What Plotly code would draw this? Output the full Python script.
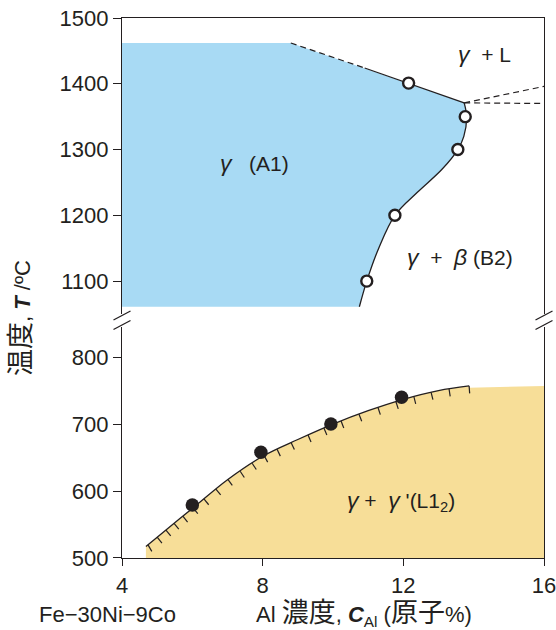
import numpy as np
import plotly.graph_objects as go

# ---------------- data ----------------
# upper panel (T >= 1050 °C)
liq_dash_x = [8.8, 10.9]
liq_dash_T = [1462, 1424]
liq_solid_x = [10.9, 13.73]
liq_solid_T = [1424, 1371]
gamma_top_T = 1462
right_dash1_x = [13.73, 16.0]
right_dash1_T = [1371, 1396]
right_dash2_x = [13.73, 16.0]
right_dash2_T = [1371, 1370]
solvus_x = [13.73, 13.8, 13.72, 13.55, 13.1, 12.4, 11.76, 11.3, 10.96, 10.75]
solvus_T = [1371, 1350, 1320, 1300, 1270, 1235, 1200, 1150, 1100, 1061]
open_x = [12.15, 13.76, 13.55, 11.76, 10.96]
open_T = [1401, 1350, 1300, 1200, 1100]

# lower panel (T <= 845 °C)
gp_x = [4.68, 5.0, 6.0, 7.0, 8.0, 9.0, 10.0, 11.0, 12.0, 13.0, 13.87]
gp_T = [517, 531, 574, 617, 652, 677, 700, 720, 737, 750, 757]
gp_right_x = 16.0
filled_x = [6.0, 7.95, 9.94, 11.95]
filled_T = [579, 658, 700, 740]
hatch_x = [4.74, 5.00, 5.25, 5.48, 5.73, 6.02, 6.33, 6.67, 7.01, 7.36, 7.70, 8.04,
           8.41, 8.81, 9.29, 9.74, 10.23, 10.74, 11.28, 11.79, 12.30, 12.79, 13.30, 13.87]

x_ticks = [4, 8, 12, 16]
top_ticks = [1100, 1200, 1300, 1400, 1500]
bot_ticks = [500, 600, 700, 800]

# ---------------- styling ----------------
W, H = 556, 630
ML, MR, MT, MB = 122, 12, 18, 72
BLACK = "#231F20"
BLUE = "#A8DAF4"
ORANGE = "#F7DE98"
FONT = "Liberation Sans, Arial, Noto Sans CJK JP"
XR = [4, 16]
TOP_R = [1050, 1500]
BOT_R = [500, 845]
TOP_DOM = [0.4519, 1.0]
BOT_DOM = [0.0, 0.4278]

fig = go.Figure()

# gamma region (blue): upper polygon overlaps the spline fill slightly to hide the seam
fig.add_trace(go.Scatter(
    x=[4, 4, liq_dash_x[0], liq_solid_x[-1], 13.6, 4],
    y=[1360, gamma_top_T, liq_dash_T[0], liq_solid_T[-1], 1360, 1360],
    fill="toself", fillcolor=BLUE, mode="none", xaxis="x", yaxis="y",
    hoverinfo="skip", showlegend=False))
fig.add_trace(go.Scatter(
    x=solvus_x, y=solvus_T, mode="lines", line=dict(color=BLACK, width=1.3, shape="spline"),
    fill="tozerox", fillcolor=BLUE, xaxis="x", yaxis="y", showlegend=False))
# liquidus lines
fig.add_trace(go.Scatter(x=liq_solid_x, y=liq_solid_T, mode="lines",
                         line=dict(color=BLACK, width=1.3), xaxis="x", yaxis="y", showlegend=False))
for xx, yy in [(liq_dash_x, liq_dash_T), (right_dash1_x, right_dash1_T), (right_dash2_x, right_dash2_T)]:
    fig.add_trace(go.Scatter(x=xx, y=yy, mode="lines",
                             line=dict(color=BLACK, width=1.2, dash="6px,4px"),
                             xaxis="x", yaxis="y", showlegend=False))
fig.add_trace(go.Scatter(x=open_x, y=open_T, mode="markers",
                         marker=dict(size=11, color="white", line=dict(color=BLACK, width=2.4)),
                         xaxis="x", yaxis="y", showlegend=False))

# gamma + gamma' region (orange)
fig.add_trace(go.Scatter(
    x=[gp_x[-1] - 0.3, gp_right_x, gp_right_x, gp_x[-1] - 0.3], y=[0, 0, gp_T[-1], gp_T[-1] - 3],
    mode="none", fill="toself", fillcolor=ORANGE,
    xaxis="x2", yaxis="y2", showlegend=False, hoverinfo="skip"))
fig.add_trace(go.Scatter(x=gp_x, y=gp_T, mode="lines",
                         line=dict(color=BLACK, width=1.3, shape="spline"),
                         fill="tozeroy", fillcolor=ORANGE,
                         xaxis="x2", yaxis="y2", showlegend=False))

# hatch ticks perpendicular to the boundary (pixel-space normal)
plot_w = W - ML - MR
plot_h = H - MT - MB
sx = plot_w / (XR[1] - XR[0])
sy = plot_h * (BOT_DOM[1] - BOT_DOM[0]) / (BOT_R[1] - BOT_R[0])
hx, hy = [], []
L = 7.5
for xv in hatch_x:
    yv = np.interp(xv, gp_x, gp_T)
    d = 0.15
    ya = np.interp(xv - d, gp_x, gp_T)
    yb = np.interp(xv + d, gp_x, gp_T)
    a = 2 * d * sx
    b = (yb - ya) * sy
    n = np.hypot(a, b)
    hx += [xv, xv + L * b / n / sx, None]
    hy += [yv, yv - L * a / n / sy, None]
fig.add_trace(go.Scatter(x=hx, y=hy, mode="lines", line=dict(color=BLACK, width=1.2),
                         xaxis="x2", yaxis="y2", showlegend=False, hoverinfo="skip"))
fig.add_trace(go.Scatter(x=filled_x, y=filled_T, mode="markers",
                         marker=dict(size=13.5, color=BLACK),
                         xaxis="x2", yaxis="y2", showlegend=False))

# break marks
def px_x(p):
    return (p - ML) / plot_w

def px_y(p):
    return (H - MB - p) / plot_h

for cx in (ML, ML + plot_w):
    for cy in (315.5, 325.0):
        fig.add_shape(type="line", xref="paper", yref="paper",
                      x0=px_x(cx - 8.5), y0=px_y(cy + 4.5), x1=px_x(cx + 8.5), y1=px_y(cy - 4.5),
                      line=dict(color=BLACK, width=1.3))

# labels
lab_font = dict(family=FONT, size=21, color=BLACK)
def add_lab(x, y, text, xref, yref, font, **kw):
    fig.add_annotation(x=x, y=y, xref=xref, yref=yref, text=text, showarrow=False, font=font,
                       xanchor="center", yanchor="middle", **kw)

G = '<span style="font-size:23px"><i>γ</i></span>'
B = '<span style="font-size:23px"><i>β</i></span>'
add_lab(7.78, 1280, G + "   (A1)", "x", "y", lab_font)
add_lab(14.3, 1446, G + "  + L", "x", "y", lab_font)
add_lab(13.62, 1136, G + "  +  " + B + " (B2)", "x", "y", lab_font)
add_lab(11.93, 585, G + " +  " + G + " '(L1<sub>2</sub>)", "x2", "y2", lab_font)

big_font = dict(family=FONT, size=22, color=BLACK)
def cjk(s):
    return '<span style="font-size:27px">' + s + "</span>"

add_lab(px_x(21), px_y(318), cjk("温度") + ", <b><i>T</i></b> /ºC", "paper", "paper", big_font,
        textangle=-90)
add_lab(px_x(107), px_y(614), "Fe−30Ni−9Co", "paper", "paper", big_font)
add_lab(px_x(364), px_y(614),
        "Al " + cjk("濃度") + ", <b><i>C</i></b><sub>Al</sub> (" + cjk("原子") + "%)",
        "paper", "paper", big_font)

tick_font = dict(family=FONT, size=22, color=BLACK)
common_y = dict(showline=True, linecolor=BLACK, linewidth=1.3, mirror=True, ticks="outside",
                ticklen=8, tickwidth=1.3, tickcolor=BLACK, showgrid=False, zeroline=False,
                tickfont=tick_font, automargin=False)
fig.update_layout(
    width=W, height=H, margin=dict(l=ML, r=MR, t=MT, b=MB, autoexpand=False),
    paper_bgcolor="white", plot_bgcolor="white", showlegend=False,
    xaxis=dict(domain=[0, 1], range=XR, anchor="y", side="top", showline=True, linecolor=BLACK,
               linewidth=1.3, showticklabels=False, ticks="", showgrid=False, zeroline=False,
               automargin=False),
    yaxis=dict(domain=TOP_DOM, range=TOP_R, anchor="x", tickvals=top_ticks, **common_y),
    xaxis2=dict(domain=[0, 1], range=XR, anchor="y2", showline=True, linecolor=BLACK, linewidth=1.3,
                ticks="outside", ticklen=7, tickwidth=1.3, tickcolor=BLACK, tickvals=x_ticks,
                showgrid=False, zeroline=False, tickfont=tick_font, automargin=False,
                ticklabeloverflow="allow"),
    yaxis2=dict(domain=BOT_DOM, range=BOT_R, anchor="x2", tickvals=bot_ticks, **common_y),
)

fig.write_html("out.html", config={"displayModeBar": False},
               post_script="document.body.style.margin='0';document.body.style.padding='0';"
                           "document.body.style.overflow='hidden';")
